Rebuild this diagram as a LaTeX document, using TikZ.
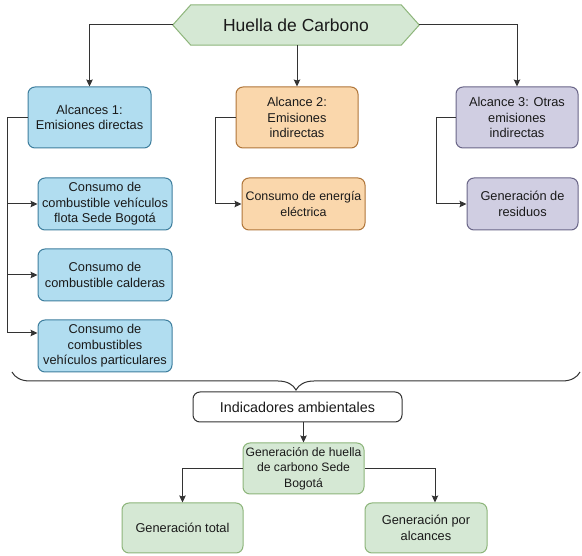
\documentclass[tikz,border=0pt]{standalone}
\usepackage{fontspec}
\setmainfont{Liberation Sans}
\usetikzlibrary{arrows.meta,decorations.pathreplacing,backgrounds}
\definecolor{bluefill}{HTML}{B1DDF0}
\definecolor{bluedraw}{HTML}{3F7F9E}
\definecolor{orfill}{HTML}{FAD7AC}
\definecolor{ordraw}{HTML}{B0763A}
\definecolor{pufill}{HTML}{D0CEE2}
\definecolor{pudraw}{HTML}{6A6688}
\definecolor{grfill}{HTML}{D5E8D4}
\definecolor{grdraw}{HTML}{8DB57A}
\definecolor{linec}{HTML}{333333}
\definecolor{txt}{HTML}{1A1A1A}
\begin{document}
\begin{tikzpicture}[x=1pt,y=1pt,
  box/.style={rectangle, rounded corners=7pt, draw, line width=1pt, align=center,
    inner sep=1pt, text=txt, font=\fontsize{12.8}{15.5}\selectfont},
  bluebox/.style={box, fill=bluefill, draw=bluedraw},
  orbox/.style={box, fill=orfill, draw=ordraw},
  pubox/.style={box, fill=pufill, draw=pudraw},
  grbox/.style={box, fill=grfill, draw=grdraw},
  whitebox/.style={box, fill=white, draw=linec, font=\fontsize{14.3}{17}\selectfont},
  conn/.style={draw=linec, line width=1pt},
  arr/.style={conn, -{Stealth[length=7pt,width=6.5pt,inset=1pt]}}
]
\useasboundingbox (0,0) rectangle (582,-556);

% title hexagon
\node[minimum width=246pt, minimum height=40pt, inner sep=0pt, text=txt,
      font=\fontsize{17.5}{20}\selectfont] (H) at (296,-25) {Huella de Carbono};
\begin{scope}[on background layer]
\fill[white] (0,0) rectangle (582,-556);
\draw[fill=grfill, draw=grdraw, line width=1pt]
  (H.west) -- ([xshift=18pt]H.north west) -- ([xshift=-18pt]H.north east)
  -- (H.east) -- ([xshift=-18pt]H.south east) -- ([xshift=18pt]H.south west) -- cycle;
\end{scope}

% scope boxes
\node[bluebox, minimum width=123pt, minimum height=61pt] (A1) at (89.5,-117.5) {Alcances 1:\\Emisiones directas};
\node[orbox, minimum width=122pt, minimum height=61pt] (A2) at (297,-117.5) {Alcance 2:\\Emisiones\\indirectas};
\node[pubox, minimum width=122pt, minimum height=61pt] (A3) at (517,-117.5) {Alcance 3: Otras\\emisiones\\indirectas};

% sub boxes
\node[bluebox, minimum width=134pt, minimum height=52pt] (B1) at (105,-204) {Consumo de\\combustible vehículos\\flota Sede Bogotá};
\node[bluebox, minimum width=134pt, minimum height=52pt] (B2) at (105,-275) {Consumo de\\combustible calderas};
\node[bluebox, minimum width=134pt, minimum height=52pt] (B3) at (105,-346) {Consumo de\\combustibles\\vehículos particulares};
\node[orbox, minimum width=123pt, minimum height=52pt, font=\fontsize{12.4}{15.5}\selectfont] (C2) at (303.5,-204) {Consumo de energía\\eléctrica};
\node[pubox, minimum width=111pt, minimum height=52pt] (C3) at (522.5,-204) {Generación de\\residuos};

% indicators
\node[whitebox, minimum width=209pt, minimum height=30pt] (I) at (297.5,-407) {Indicadores ambientales};
\node[grbox, minimum width=121pt, minimum height=51pt, font=\fontsize{12.2}{15.5}\selectfont] (G) at (303.5,-468.5) {Generación de huella\\de carbono Sede\\Bogotá};
\node[grbox, minimum width=121pt, minimum height=50pt] (GT) at (182.5,-528) {Generación total};
\node[grbox, minimum width=122pt, minimum height=50pt] (GA) at (426,-528) {Generación por\\alcances};

% connectors from title
\draw[arr] (H.west) -| (A1.north);
\draw[arr] (H.south -| A2.north) -- (A2.north);
\draw[arr] (H.east) -| (A3.north);

% scope 1 branches
\coordinate (B3in) at ([yshift=13pt]B3.west);
\draw[conn] (A1.west) -- ++(-20,0) coordinate (L1) -- (L1 |- B3in);
\draw[arr] (L1 |- B1.west) -- (B1.west);
\draw[arr] (L1 |- B2.west) -- (B2.west);
\draw[arr] (L1 |- B3in) -- (B3in);

% scope 2 and 3 branches
\draw[arr] (A2.west) -- ++(-20,0) |- (C2.west);
\draw[arr] (A3.west) -- ++(-19,0) |- (C3.west);

% brace
\coordinate (BL) at (12,-372);
\coordinate (BR) at (580,-372);
\draw[conn, decorate, decoration={brace, mirror, amplitude=18pt}] (BL) -- (BR);

% indicators connectors
\coordinate (GAin) at ([xshift=9pt]GA.north);
\draw[arr] (G.north |- I.south) -- (G.north);
\draw[arr] (G.west) -| (GT.north);
\draw[arr] (G.east) -| (GAin);
\end{tikzpicture}
\end{document}
